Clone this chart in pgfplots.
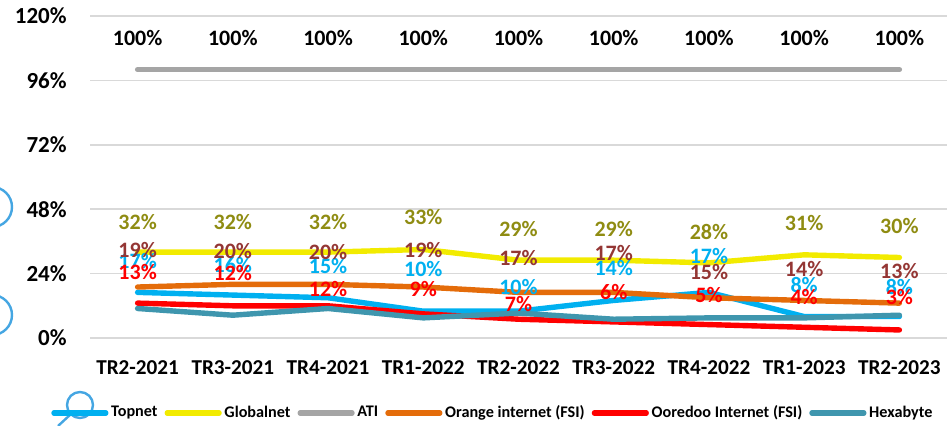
\documentclass[border=0pt]{standalone}
\usepackage{fontspec}
\setmainfont{Carlito}
\usepackage{pgfplots}
\pgfplotsset{compat=1.18}

\definecolor{topnet}{HTML}{00B0F0}
\definecolor{globalnet}{HTML}{F2EB00}
\definecolor{ati}{HTML}{A5A5A5}
\definecolor{orangefsi}{HTML}{E46C0A}
\definecolor{ooredoo}{HTML}{FF0000}
\definecolor{hexabyte}{HTML}{3F96AE}
\definecolor{olivelbl}{HTML}{8F8C12}
\definecolor{brownlbl}{HTML}{943634}
\definecolor{gridgray}{HTML}{D9D9D9}
\definecolor{deco}{HTML}{45A6E2}

% x = quarter index, y = value (%), s = label shift above the point (pt)
\pgfplotstableread{
x y s
0 17 15.9
1 16 15.0
2 15 15.9
3 10 21.1
4 10 12.3
5 14 16.0
6 17 18.2
7 8 15.8
8 8 14.9
}\topnetdata
\pgfplotstableread{
x y s
0 32 15.2
1 32 15.2
2 32 15.2
3 33 16.4
4 29 15.6
5 29 15.6
6 28 15.6
7 31 15.7
8 30 15.7
}\globalnetdata
\pgfplotstableread{
x y s
0 100 15.7
1 100 15.7
2 100 15.7
3 100 15.7
4 100 15.7
5 100 15.7
6 100 15.7
7 100 15.7
8 100 15.7
}\atidata
\pgfplotstableread{
x y s
0 19 18.5
1 20 16.7
2 20 16.3
3 19 18.5
4 17 17.0
5 17 19.9
6 15 13.0
7 14 15.7
8 13 16.0
}\orangedata
\pgfplotstableread{
x y s
0 13 15.7
1 12 16.2
2 12 8.4
3 9 12.4
4 7 7.5
5 6 15.1
6 5 14.8
7 4 15.3
8 3 16.3
}\ooredoodata
\pgfplotstableread{
x y
0 11
1 8.5
2 11
3 7.5
4 9.3
5 7
6 7.5
7 7.5
8 8.5
}\hexabytedata

\pgfplotsset{
    lbl/.style={
        visualization depends on={\thisrow{s} \as \lshift},
        nodes near coords={\pgfmathprintnumber{\pgfplotspointmeta}\%},
        every node near coord/.append style={#1, font=\fontsize{11}{13}\selectfont\bfseries,
            anchor=center, inner sep=0pt, yshift=\lshift pt},
    },
}

\begin{document}
\begin{tikzpicture}[font=\bfseries]
\begin{axis}[
    scale only axis,
    width=428.5pt, height=161pt,
    xmin=-0.5, xmax=8.5, ymin=0, ymax=120,
    xtick={0,...,8},
    xticklabels={TR2-2021,TR3-2021,TR4-2021,TR1-2022,TR2-2022,TR3-2022,TR4-2022,TR1-2023,TR2-2023},
    ytick={0,24,...,120},
    yticklabel={\pgfmathprintnumber{\tick}\%},
    /pgf/number format/assume math mode=true,
    axis line style={draw=none},
    major tick length=0pt,
    ymajorgrids, grid style={line width=0.8pt, gridgray},
    yticklabel style={font=\fontsize{11.5}{13}\selectfont\bfseries, anchor=east, inner sep=0pt, xshift=-11.5pt},
    xticklabel style={font=\fontsize{10.6}{12}\selectfont\bfseries, anchor=north, inner sep=0pt, yshift=-11pt},
    clip=false,
    set layers=standard,
    mark layer=axis foreground,
    every axis plot/.append style={line width=2.7pt, line cap=round, line join=round},
    legend columns=6,
    legend style={draw=none, fill=none, at={(0.4705,0)}, yshift=-37.5pt, anchor=center,
        font=\fontsize{8.1}{10}\selectfont\bfseries, inner sep=0pt,
        nodes={inner sep=1.35pt},
        /tikz/every even column/.style={column sep=2.15pt}},
    legend image code/.code={\draw[#1, line width=2.6pt, line cap=round] (0pt,0pt) -- (26pt,0pt);},
]
\addplot[topnet, lbl=topnet] table[x=x, y=y] {\topnetdata};
\addlegendentry{Topnet}
\addplot[globalnet, lbl=olivelbl] table[x=x, y=y] {\globalnetdata};
\addlegendentry{Globalnet}
\addplot[ati, lbl=black] table[x=x, y=y] {\atidata};
\addlegendentry{ATI}
\addplot[orangefsi, lbl=brownlbl] table[x=x, y=y] {\orangedata};
\addlegendentry{Orange internet (FSI)}
\addplot[ooredoo, lbl=ooredoo] table[x=x, y=y] {\ooredoodata};
\addlegendentry{Ooredoo Internet (FSI)}
\addplot[hexabyte] table[x=x, y=y] {\hexabytedata};
\addlegendentry{Hexabyte}
\end{axis}
% background decorations of the slide
\draw[deco, line width=1.2pt] (-49pt,65.5pt) circle (10pt);
\draw[deco, line width=1.2pt] (-49pt,11.5pt) circle (10pt);
\draw[deco, line width=1.2pt] (-5pt,-33.5pt) circle (6.5pt);
\draw[deco, line width=1.2pt] (-9.5pt,-38pt) -- (-16pt,-44pt);
\pgfresetboundingbox
\useasboundingbox (-45pt,-43.5pt) rectangle (428.5pt,169pt);
\end{tikzpicture}
\end{document}
